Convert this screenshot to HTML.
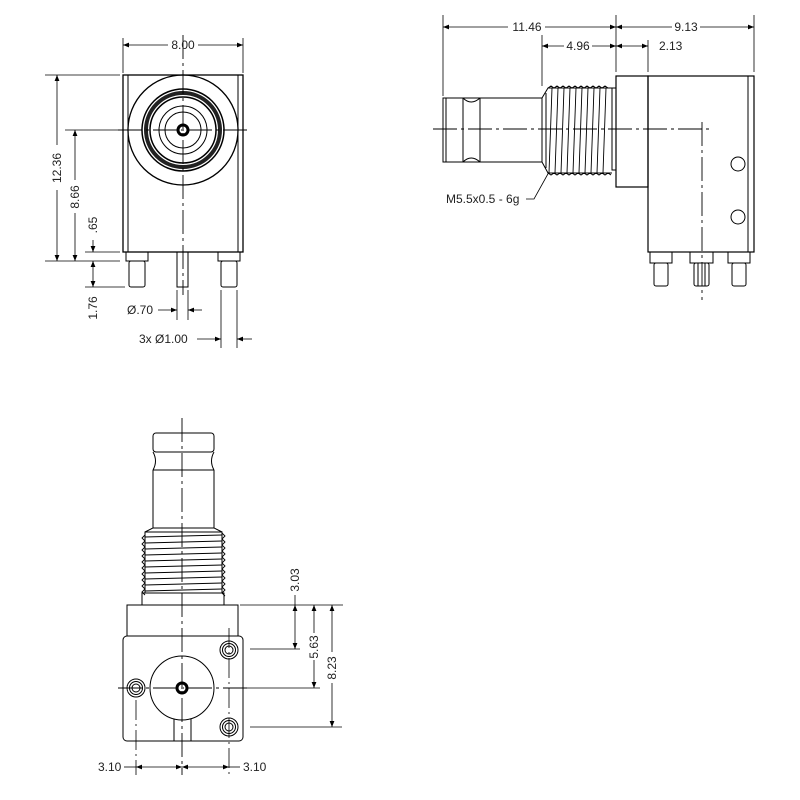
<!DOCTYPE html>
<html><head><style>body{margin:0;background:#fff}svg{display:block}text{font-family:"Liberation Sans",sans-serif;font-size:12px;fill:#222}</style></head><body>
<svg width="800" height="800" viewBox="0 0 800 800" xmlns="http://www.w3.org/2000/svg">
<defs>
<marker id="a" viewBox="0 0 10 10" refX="10" refY="5" markerWidth="8" markerHeight="6" orient="auto-start-reverse" markerUnits="userSpaceOnUse"><path d="M0,1 L10,5 L0,9z" fill="#000"/></marker>
</defs>
<g fill="none" stroke="#000" stroke-width="1">
<!-- FRONT VIEW -->
<rect x="123" y="75" width="120" height="177" stroke-width="1.3"/>
<line x1="128" y1="75" x2="128" y2="252"/><line x1="238" y1="75" x2="238" y2="252"/>
<circle cx="183" cy="130" r="55" stroke-width="1.3"/>
<circle cx="183" cy="130" r="37" stroke-width="4" stroke="#222"/>
<circle cx="183" cy="130" r="33" stroke-width="1.5"/>
<circle cx="183" cy="130" r="41" stroke-width="1.5"/>
<circle cx="183" cy="130" r="24"/><circle cx="183" cy="130" r="18"/>
<circle cx="183" cy="130" r="5" stroke-width="3"/>
<rect x="126" y="252" width="22" height="9"/><rect x="129" y="261" width="16" height="26" rx="2"/>
<rect x="218" y="252" width="22" height="9"/><rect x="221" y="261" width="16" height="26" rx="2"/>
<rect x="177" y="252" width="11" height="35"/>
<g stroke-dasharray="24,4,3,4" stroke-width="0.9"><line x1="183" y1="35" x2="183" y2="295"/><line x1="118" y1="130" x2="250" y2="130"/></g>
<!-- front dims -->
<g stroke-width="0.8">
<line x1="123" y1="38" x2="123" y2="73"/><line x1="243" y1="38" x2="243" y2="73"/>
<line x1="45" y1="75" x2="120" y2="75"/><line x1="45" y1="261" x2="120" y2="261"/>
<line x1="65" y1="130" x2="120" y2="130"/><line x1="85" y1="252" x2="120" y2="252"/><line x1="85" y1="287" x2="125" y2="287"/>
<line x1="177" y1="290" x2="177" y2="320"/><line x1="188" y1="290" x2="188" y2="320"/>
<line x1="221" y1="290" x2="221" y2="348"/><line x1="237" y1="290" x2="237" y2="348"/>
<line x1="123" y1="45" x2="168" y2="45" marker-start="url(#a)"/><line x1="198" y1="45" x2="243" y2="45" marker-end="url(#a)"/>
<line x1="57" y1="75" x2="57" y2="145" marker-start="url(#a)"/><line x1="57" y1="190" x2="57" y2="261" marker-end="url(#a)"/>
<line x1="75" y1="130" x2="75" y2="180" marker-start="url(#a)"/><line x1="75" y1="213" x2="75" y2="261" marker-end="url(#a)"/>
<line x1="93" y1="240" x2="93" y2="252" marker-end="url(#a)"/>
<line x1="93" y1="261" x2="93" y2="287" marker-start="url(#a)" marker-end="url(#a)"/>
<line x1="158" y1="310" x2="177" y2="310" marker-end="url(#a)"/><line x1="202" y1="310" x2="188" y2="310" marker-end="url(#a)"/>
<line x1="197" y1="339" x2="221" y2="339" marker-end="url(#a)"/><line x1="252" y1="339" x2="237" y2="339" marker-end="url(#a)"/>
</g>
<!-- SIDE VIEW -->
<rect x="616" y="76" width="32" height="111" stroke-width="1.2"/>
<rect x="648" y="76" width="106" height="176" stroke-width="1.2"/>
<line x1="748" y1="76" x2="748" y2="252"/>
<circle cx="738" cy="164" r="7"/><circle cx="738" cy="217" r="7"/>
<rect x="612" y="88" width="4" height="82"/>
<path d="M542,98 L548,88 L612,88 M542,162 L548,173 L612,173" />
<line x1="546" y1="93" x2="546" y2="168"/>
<path d="M548,88 l3,-2 l3,2 l3,-2 l3,2 l3,-2 l3,2 l3,-2 l3,2 l3,-2 l3,2 l3,-2 l3,2 l3,-2 l3,2 l3,-2 l3,2 l3,-2 l3,2 l3,-2 l3,2"/>
<path d="M548,173 l3,2 l3,-2 l3,2 l3,-2 l3,2 l3,-2 l3,2 l3,-2 l3,2 l3,-2 l3,2 l3,-2 l3,2 l3,-2 l3,2 l3,-2 l3,2 l3,-2 l3,2 l3,-2 l3,2"/>
<g stroke-width="0.9"><path d="M552,88 L549,173 M558,88 L555,173 M564,88 L561,173 M570,88 L567,173 M576,88 L573,173 M582,88 L579,173 M588,88 L585,173 M594,88 L591,173 M600,88 L597,173 M606,88 L603,173"/></g>
<rect x="443" y="98" width="99" height="64"/>
<line x1="446" y1="98" x2="446" y2="162"/><line x1="463" y1="98" x2="463" y2="162"/><line x1="480" y1="98" x2="480" y2="162"/>
<path d="M463,98 Q471,106 480,98 M463,162 Q471,154 480,162"/>
<rect x="650" y="252" width="22" height="11"/><rect x="654" y="263" width="14" height="23" rx="2"/>
<rect x="728" y="252" width="22" height="11"/><rect x="732" y="263" width="14" height="23" rx="2"/>
<rect x="690" y="252" width="23" height="11"/><rect x="694" y="263" width="15" height="23" rx="2"/><line x1="698" y1="263" x2="698" y2="286"/><line x1="705" y1="263" x2="705" y2="286"/>
<g stroke-dasharray="24,4,3,4" stroke-width="0.9"><line x1="433" y1="129" x2="712" y2="129"/><line x1="702" y1="122" x2="702" y2="300"/></g>
<g stroke-width="0.8">
<line x1="443" y1="15" x2="443" y2="96"/><line x1="616" y1="15" x2="616" y2="72"/><line x1="754" y1="15" x2="754" y2="72"/>
<line x1="542" y1="35" x2="542" y2="86"/><line x1="648" y1="40" x2="648" y2="72"/>
<line x1="443" y1="27" x2="508" y2="27" marker-start="url(#a)"/><line x1="545" y1="27" x2="616" y2="27" marker-end="url(#a)"/>
<line x1="616" y1="27" x2="672" y2="27" marker-start="url(#a)"/><line x1="700" y1="27" x2="754" y2="27" marker-end="url(#a)"/>
<line x1="542" y1="46" x2="564" y2="46" marker-start="url(#a)"/><line x1="592" y1="46" x2="616" y2="46" marker-end="url(#a)"/>
<line x1="616" y1="46" x2="648" y2="46" marker-start="url(#a)" marker-end="url(#a)"/>
<path d="M526,199 L534,199 L549,172"/>
</g>
<!-- BOTTOM VIEW -->
<rect x="153" y="433" width="61" height="19" rx="3"/>
<path d="M153,452 Q158,461 153,470 M214,452 Q209,461 214,470"/>
<line x1="153" y1="470" x2="214" y2="470"/>
<path d="M153,470 L153,528 L145,532 M214,470 L214,528 L222,532"/>
<line x1="153" y1="528" x2="214" y2="528"/>
<rect x="145" y="532" width="77" height="61"/>
<g stroke-width="0.9"><path d="M145,537 L222,535 M145,543 L222,541 M145,549 L222,547 M145,555 L222,553 M145,561 L222,559 M145,567 L222,565 M145,573 L222,571 M145,579 L222,577 M145,585 L222,583 M145,591 L222,589"/>
<path d="M145,535 l-3,3 l3,3 l-3,3 l3,3 l-3,3 l3,3 l-3,3 l3,3 l-3,3 l3,3 l-3,3 l3,3 l-3,3 l3,3 l-3,3 l3,3 l-3,3 l3,3 l-3,3 l3,3 M222,533 l3,3 l-3,3 l3,3 l-3,3 l3,3 l-3,3 l3,3 l-3,3 l3,3 l-3,3 l3,3 l-3,3 l3,3 l-3,3 l3,3 l-3,3 l3,3 l-3,3 l3,3 l-3,3 l3,3"/></g>
<rect x="142" y="593" width="82" height="12"/>
<rect x="127" y="605" width="111" height="31"/>
<rect x="123" y="636" width="120" height="105" rx="4"/>
<circle cx="182" cy="688" r="32"/>
<circle cx="182" cy="688" r="5" stroke-width="3"/>
<path d="M174,719 L174,741 M191,719 L191,741"/>
<g><circle cx="229" cy="650" r="9"/><circle cx="229" cy="650" r="6.5"/><circle cx="229" cy="650" r="4"/>
<circle cx="136" cy="688" r="9"/><circle cx="136" cy="688" r="6.5"/><circle cx="136" cy="688" r="4"/>
<circle cx="229" cy="727" r="9"/><circle cx="229" cy="727" r="6.5"/><circle cx="229" cy="727" r="4"/></g>
<g stroke-dasharray="24,4,3,4" stroke-width="0.9"><line x1="182" y1="418" x2="182" y2="775"/><line x1="118" y1="688" x2="248" y2="688"/></g>
<g stroke-width="0.8">
<line x1="136" y1="700" x2="136" y2="775" stroke-dasharray="20,4,2,4"/><line x1="229" y1="628" x2="229" y2="775" stroke-dasharray="20,4,2,4"/>
<line x1="240" y1="605" x2="343" y2="605"/><line x1="250" y1="649" x2="300" y2="649"/><line x1="245" y1="688" x2="320" y2="688"/><line x1="250" y1="727" x2="342" y2="727"/>
<line x1="295" y1="605" x2="295" y2="649" marker-start="url(#a)" marker-end="url(#a)"/><line x1="295" y1="595" x2="295" y2="605"/>
<line x1="314" y1="605" x2="314" y2="633" marker-start="url(#a)"/><line x1="314" y1="660" x2="314" y2="688" marker-end="url(#a)"/>
<line x1="332" y1="605" x2="332" y2="652" marker-start="url(#a)"/><line x1="332" y1="683" x2="332" y2="727" marker-end="url(#a)"/>
<line x1="124" y1="767" x2="136" y2="767"/><line x1="136" y1="767" x2="182" y2="767" marker-start="url(#a)" marker-end="url(#a)"/>
<line x1="182" y1="767" x2="229" y2="767" marker-start="url(#a)" marker-end="url(#a)"/><line x1="229" y1="767" x2="240" y2="767"/>
</g>
</g>
<!-- texts -->
<text x="183" y="49" text-anchor="middle">8.00</text>
<text transform="translate(61,168) rotate(-90)" text-anchor="middle">12.36</text>
<text transform="translate(79,197) rotate(-90)" text-anchor="middle">8.66</text>
<text transform="translate(97,225) rotate(-90)" text-anchor="middle">.65</text>
<text transform="translate(97,308) rotate(-90)" text-anchor="middle">1.76</text>
<text x="127" y="314">Ø.70</text>
<text x="139" y="343">3x Ø1.00</text>
<text x="527" y="31" text-anchor="middle">11.46</text>
<text x="686" y="31" text-anchor="middle">9.13</text>
<text x="578" y="50" text-anchor="middle">4.96</text>
<text x="659" y="50">2.13</text>
<text x="446" y="203">M5.5x0.5 - 6g</text>
<text transform="translate(299,580) rotate(-90)" text-anchor="middle">3.03</text>
<text transform="translate(318,647) rotate(-90)" text-anchor="middle">5.63</text>
<text transform="translate(336,668) rotate(-90)" text-anchor="middle">8.23</text>
<text x="98" y="771">3.10</text>
<text x="243" y="771">3.10</text>
</svg>
</body></html>
